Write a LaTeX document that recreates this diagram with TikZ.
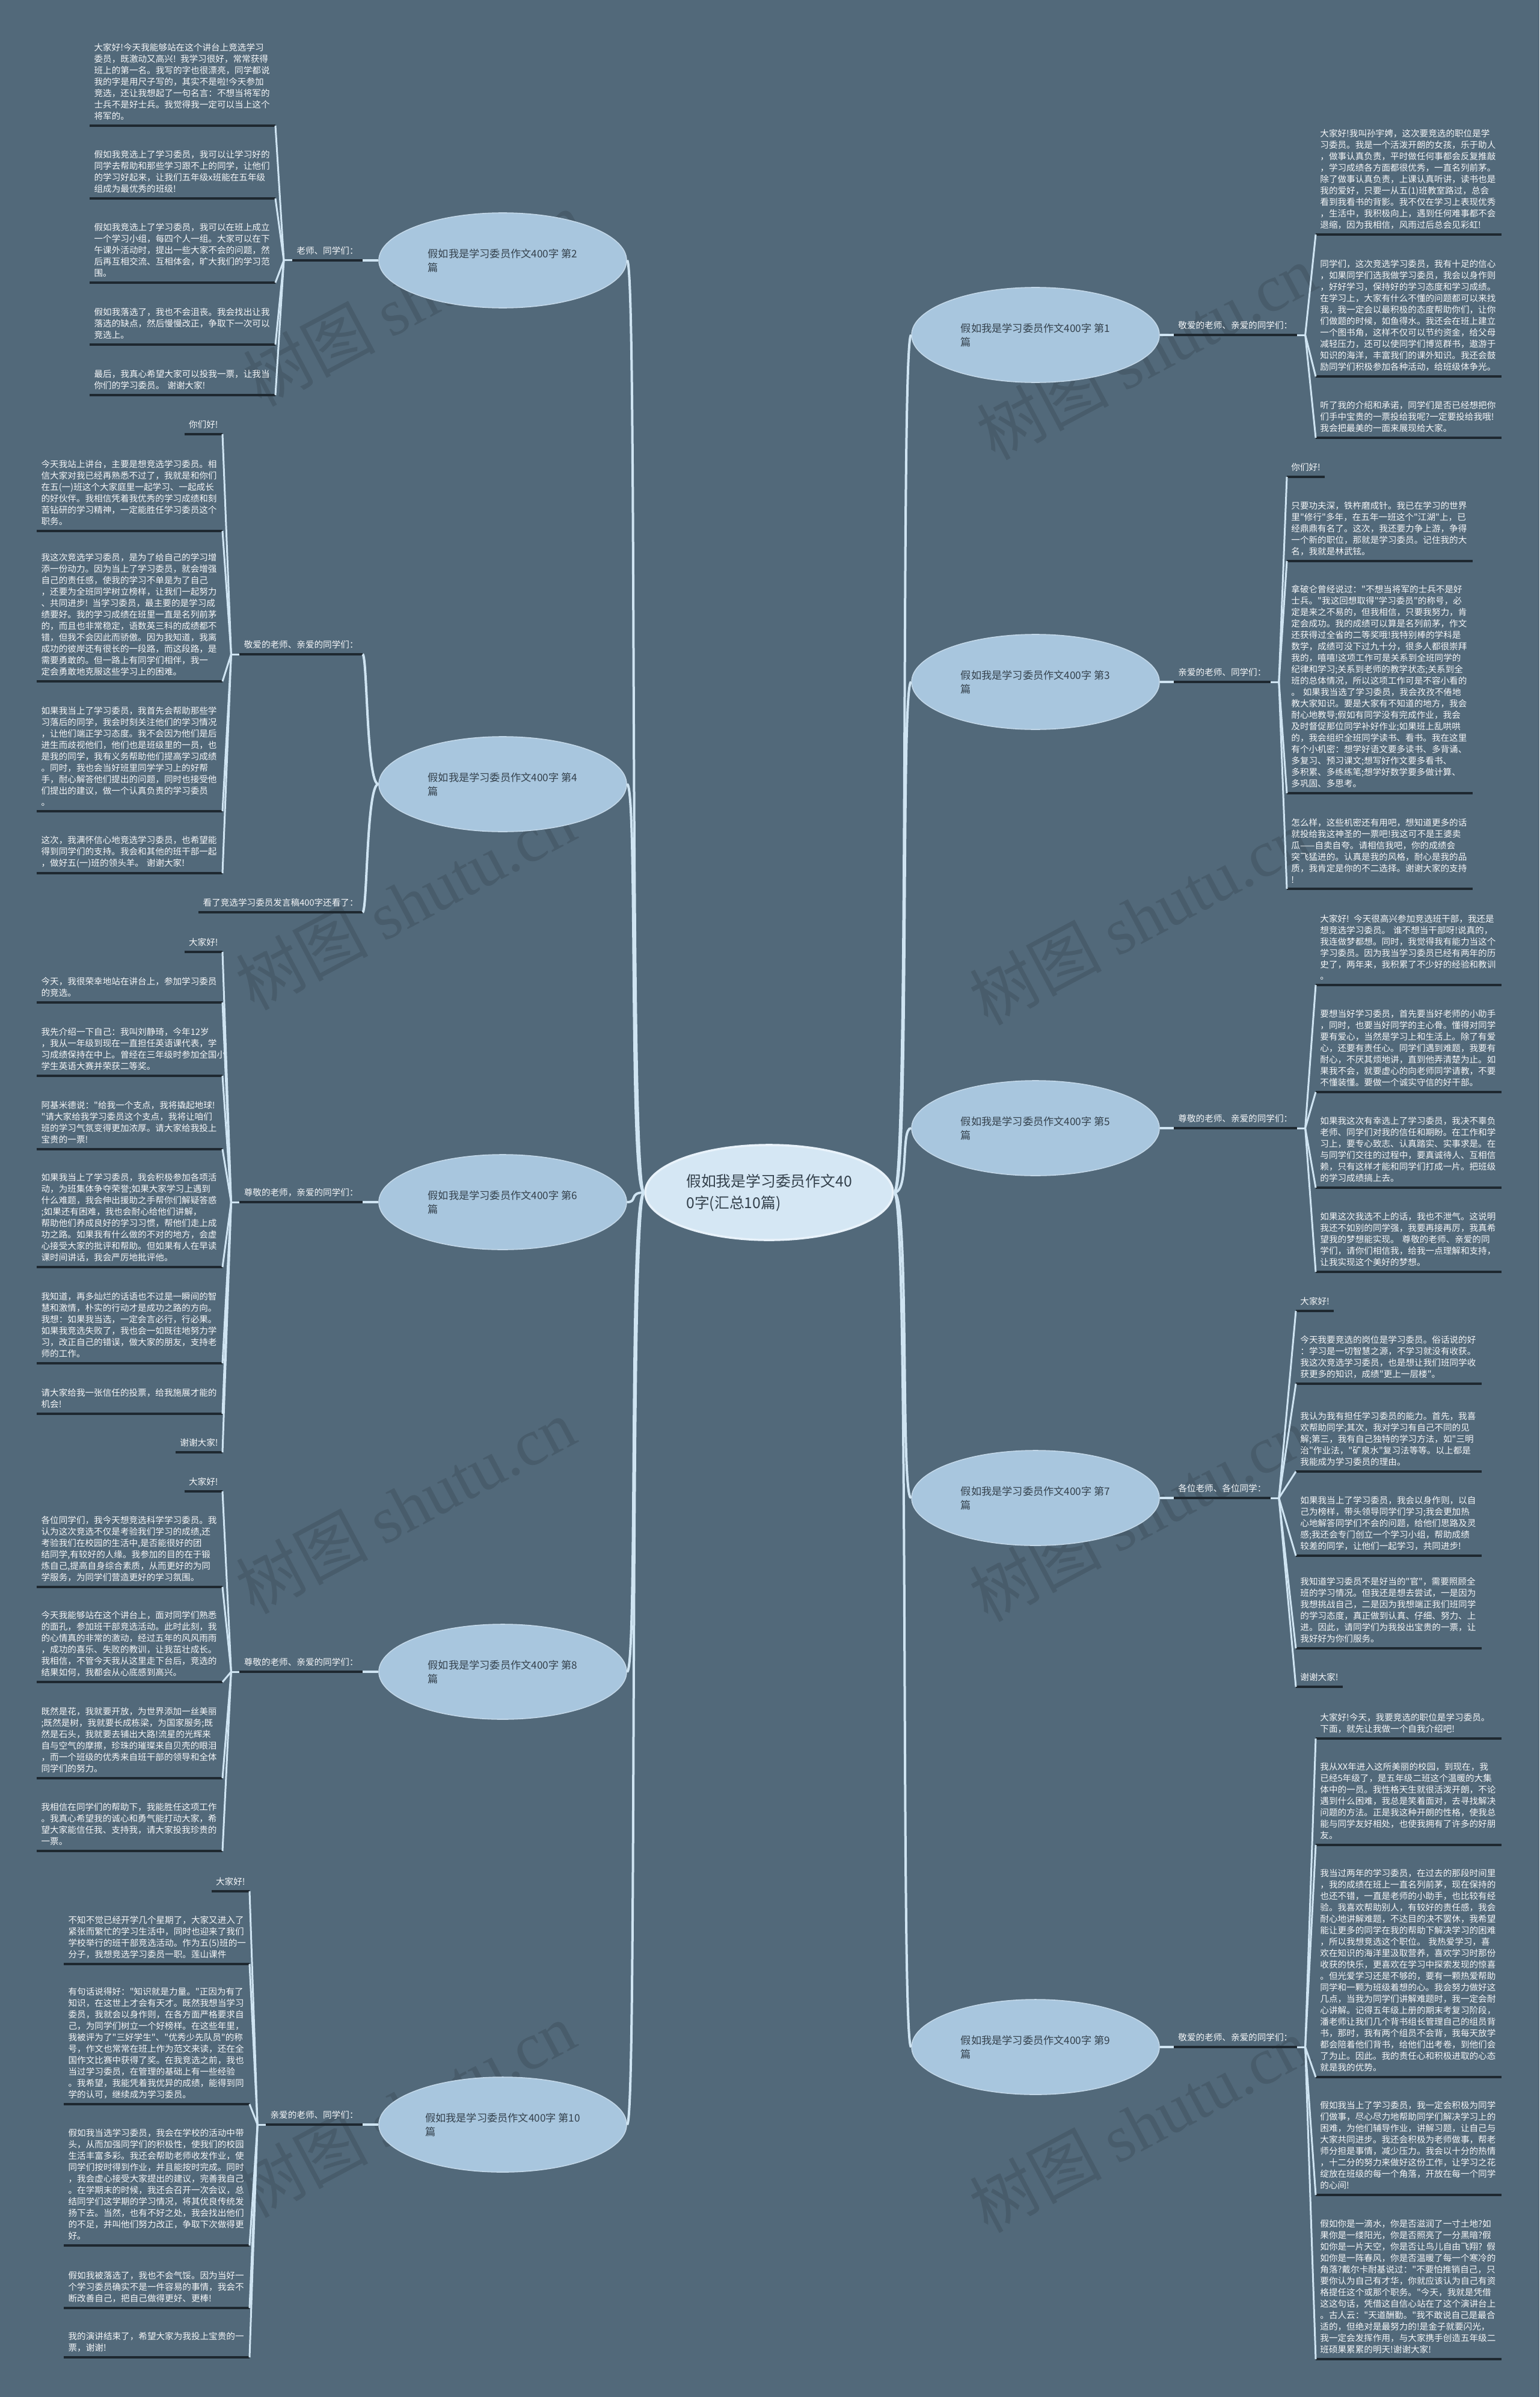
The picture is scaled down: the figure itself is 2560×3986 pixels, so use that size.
\documentclass[tikz,border=0pt]{standalone}
\usepackage{fontspec}
\usetikzlibrary{shapes.geometric}

\newfontfamily\cjk{Noto Sans CJK SC}
\newfontfamily\wmlatin{Liberation Serif}
\newcommand\paratext{\cjk\fontsize{7.3pt}{9.5pt}\selectfont}
\newcommand\topictext{\cjk\fontsize{8.6pt}{11.5pt}\selectfont}
\newcommand\roottext{\cjk\fontsize{12.4pt}{18pt}\selectfont}

\definecolor{bgc}{HTML}{52697A}
\definecolor{linkc}{HTML}{CFE4F2}
\definecolor{ulc}{HTML}{1E2830}
\definecolor{topicc}{HTML}{A8C6DE}
\definecolor{rootc}{HTML}{D5E7F4}
\definecolor{rootline}{HTML}{E8F2FA}
\definecolor{darkc}{HTML}{34414C}
\definecolor{textc}{HTML}{F4F6F8}

\tikzset{
  topic/.style={ellipse, draw=topicc!70!white, line width=0.8pt, fill=topicc,
    minimum width=206pt, minimum height=79pt, inner sep=0pt, align=left,
    text=darkc, font=\topictext},
  root/.style={topic, draw=rootline, line width=1.8pt, fill=rootc, font=\roottext},
  uline/.style={draw=ulc, line width=1.7pt},
  item/.style={font=\paratext, text=textc, align=left, inner xsep=3.5pt, inner ysep=4.3pt,
    append after command={(\tikzlastnode.south west) edge[uline] (\tikzlastnode.south east)}},
  para/.style={item, text width=147pt},
  link/.style={draw=linkc, line width=2pt},
  fan/.style={draw=linkc, line width=1.5pt},
  wm/.style={rotate=28, text=black, opacity=0.12, font=\cjk\fontsize{55pt}{55pt}\selectfont}
}

\begin{document}
\begin{tikzpicture}[x=0.5pt, y=-0.5pt]
  % Background
  \useasboundingbox (0,0) rectangle (2560,3986);
  \fill[bgc] (0,0) rectangle (2560,3986);

  % Watermarks
  \foreach \x/\y [count=\i] in {686/496, 1906/585, 674/1500, 1894/1525, 674/2504, 1894/2517, 674/3508, 1894/3533} {
    \node[wm] (wm\i) at (\x,\y) {树图 {\wmlatin shutu.cn}};
  }

  % Root and topics
  \node[root] (root) at (1279,1983) {假如我是学习委员作文40\\0字(汇总10篇)};
  \node[topic] (b1) at (1722,557) {假如我是学习委员作文400字 第1\\篇};
  \node[topic] (b3) at (1722,1134) {假如我是学习委员作文400字 第3\\篇};
  \node[topic] (b5) at (1722,1876) {假如我是学习委员作文400字 第5\\篇};
  \node[topic] (b7) at (1722,2491) {假如我是学习委员作文400字 第7\\篇};
  \node[topic] (b9) at (1722,3404) {假如我是学习委员作文400字 第9\\篇};
  \node[topic] (b2) at (836,433) {假如我是学习委员作文400字 第2\\篇};
  \node[topic] (b4) at (836,1304) {假如我是学习委员作文400字 第4\\篇};
  \node[topic] (b6) at (836,1999) {假如我是学习委员作文400字 第6\\篇};
  \node[topic] (b8) at (836,2780) {假如我是学习委员作文400字 第8\\篇};
  \node[topic] (b10) at (836,3533) {假如我是学习委员作文400字 第10\\篇};

  % Greetings
  \node[item, anchor=south west] (g1) at (1952,557) {敬爱的老师、亲爱的同学们：};
  \node[item, anchor=south west] (g3) at (1952,1134) {亲爱的老师、同学们：};
  \node[item, anchor=south west] (g5) at (1952,1876) {尊敬的老师、亲爱的同学们：};
  \node[item, anchor=south west] (g7) at (1952,2491) {各位老师、各位同学：};
  \node[item, anchor=south west] (g9) at (1952,3404) {敬爱的老师、亲爱的同学们：};
  \node[item, anchor=south east] (g2) at (603,433) {老师、同学们：};
  \node[item, anchor=south east] (g4) at (603,1088) {敬爱的老师、亲爱的同学们：};
  \node[item, anchor=south east] (p4f) at (603,1517) {看了竞选学习委员发言稿400字还看了：};
  \node[item, anchor=south east] (g6) at (603,1999) {尊敬的老师，亲爱的同学们：};
  \node[item, anchor=south east] (g8) at (603,2780) {尊敬的老师、亲爱的同学们：};
  \node[item, anchor=south east] (g10) at (603,3533) {亲爱的老师、同学们：};

  % Branch 1
  \node[para, anchor=south west] (p1a) at (2188,390) {大家好!我叫孙宇娉，这次要竞选的职位是学\\习委员。我是一个活泼开朗的女孩，乐于助人\\，做事认真负责，平时做任何事都会反复推敲\\，学习成绩各方面都很优秀，一直名列前茅。\\除了做事认真负责，上课认真听讲，读书也是\\我的爱好，只要一从五(1)班教室路过，总会\\看到我看书的背影。我不仅在学习上表现优秀\\，生活中，我积极向上，遇到任何难事都不会\\退缩，因为我相信，风雨过后总会见彩虹!};
  \node[para, anchor=south west] (p1b) at (2188,626) {同学们，这次竞选学习委员，我有十足的信心\\，如果同学们选我做学习委员，我会以身作则\\，好好学习，保持好的学习态度和学习成绩。\\在学习上，大家有什么不懂的问题都可以来找\\我，我一定会以最积极的态度帮助你们，让你\\们做题的时候，如鱼得水。我还会在班上建立\\一个图书角，这样不仅可以节约资金，给父母\\减轻压力，还可以使同学们博览群书，遨游于\\知识的海洋，丰富我们的课外知识。我还会鼓\\励同学们积极参加各种活动，给班级体争光。};
  \node[para, anchor=south west] (p1c) at (2188,728) {听了我的介绍和承诺，同学们是否已经想把你\\们手中宝贵的一票投给我呢?一定要投给我哦!\\我会把最美的一面来展现给大家。};

  % Branch 3
  \node[item, anchor=south west] (p3a) at (2140,793) {你们好!};
  \node[para, anchor=south west] (p3b) at (2140,933) {只要功夫深，铁杵磨成针。我已在学习的世界\\里"修行"多年，在五年一班这个"江湖"上，已\\经鼎鼎有名了。这次，我还要力争上游，争得\\一个新的职位，那就是学习委员。记住我的大\\名，我就是林武铉。};
  \node[para, anchor=south west] (p3c) at (2140,1319) {拿破仑曾经说过："不想当将军的士兵不是好\\士兵。"我这回想取得"学习委员"的称号，必\\定是来之不易的，但我相信，只要我努力，肯\\定会成功。我的成绩可以算是名列前茅，作文\\还获得过全省的二等奖哦!我特别棒的学科是\\数学，成绩可没下过九十分，很多人都很崇拜\\我的，嘻嘻!这项工作可是关系到全班同学的\\纪律和学习;关系到老师的教学状态;关系到全\\班的总体情况，所以这项工作可是不容小看的\\。 如果我当选了学习委员，我会孜孜不倦地\\教大家知识。要是大家有不知道的地方，我会\\耐心地教导;假如有同学没有完成作业，我会\\及时督促那位同学补好作业;如果班上乱哄哄\\的，我会组织全班同学读书、看书。我在这里\\有个小机密：想学好语文要多读书、多背诵、\\多复习、预习课文;想写好作文要多看书、\\多积累、多练练笔;想学好数学要多做计算、\\多巩固、多思考。};
  \node[para, anchor=south west] (p3d) at (2140,1478) {怎么样，这些机密还有用吧，想知道更多的话\\就投给我这神圣的一票吧!我这可不是王婆卖\\瓜——自卖自夸。请相信我吧，你的成绩会\\突飞猛进的。认真是我的风格，耐心是我的品\\质，我肯定是你的不二选择。谢谢大家的支持\\!};

  % Branch 5
  \node[para, anchor=south west] (p5a) at (2188,1638) {大家好! 今天很高兴参加竞选班干部，我还是\\想竞选学习委员。 谁不想当干部呀!说真的，\\我连做梦都想。同时，我觉得我有能力当这个\\学习委员。因为我当学习委员已经有两年的历\\史了，两年来，我积累了不少好的经验和教训\\。};
  \node[para, anchor=south west] (p5b) at (2188,1816) {要想当好学习委员，首先要当好老师的小助手\\，同时，也要当好同学的主心骨。懂得对同学\\要有爱心，当然是学习上和生活上。除了有爱\\心，还要有责任心。同学们遇到难题，我要有\\耐心，不厌其烦地讲，直到他弄清楚为止。如\\果我不会，就要虚心的向老师同学请教，不要\\不懂装懂。要做一个诚实守信的好干部。};
  \node[para, anchor=south west] (p5c) at (2188,1975) {如果我这次有幸选上了学习委员，我决不辜负\\老师、同学们对我的信任和期盼。在工作和学\\习上，要专心致志、认真踏实、实事求是。在\\与同学们交往的过程中，要真诚待人、互相信\\赖，只有这样才能和同学们打成一片。把班级\\的学习成绩搞上去。};
  \node[para, anchor=south west] (p5d) at (2188,2115) {如果这次我选不上的话，我也不泄气。这说明\\我还不如别的同学强，我要再接再厉，我真希\\望我的梦想能实现。 尊敬的老师、亲爱的同\\学们，请你们相信我，给我一点理解和支持，\\让我实现这个美好的梦想。};

  % Branch 7
  \node[item, anchor=south west] (p7a) at (2155,2180) {大家好!};
  \node[para, anchor=south west] (p7b) at (2155,2301) {今天我要竞选的岗位是学习委员。俗话说的好\\：学习是一切智慧之源，不学习就没有收获。\\我这次竞选学习委员，也是想让我们班同学收\\获更多的知识，成绩"更上一层楼"。};
  \node[para, anchor=south west] (p7c) at (2155,2447) {我认为我有担任学习委员的能力。首先，我喜\\欢帮助同学;其次，我对学习有自己不同的见\\解;第三，我有自己独特的学习方法，如"三明\\治"作业法，"矿泉水"复习法等等。以上都是\\我能成为学习委员的理由。};
  \node[para, anchor=south west] (p7d) at (2155,2587) {如果我当上了学习委员，我会以身作则，以自\\己为榜样，带头领导同学们学习;我会更加热\\心地解答同学们不会的问题，给他们思路及灵\\感;我还会专门创立一个学习小组，帮助成绩\\较差的同学，让他们一起学习，共同进步!};
  \node[para, anchor=south west] (p7e) at (2155,2741) {我知道学习委员不是好当的"官"，需要照顾全\\班的学习情况。但我还是想去尝试，一是因为\\我想挑战自己，二是因为我想端正我们班同学\\的学习态度，真正做到认真、仔细、努力、上\\进。因此，请同学们为我投出宝贵的一票，让\\我好好为你们服务。};
  \node[item, anchor=south west] (p7f) at (2155,2805) {谢谢大家!};

  % Branch 9
  \node[para, anchor=south west] (p9a) at (2188,2891) {大家好!今天，我要竞选的职位是学习委员。\\下面，就先让我做一个自我介绍吧!};
  \node[para, anchor=south west] (p9b) at (2188,3068) {我从XX年进入这所美丽的校园，到现在，我\\已经5年级了，是五年级二班这个温暖的大集\\体中的一员。我性格天生就很活泼开朗，不论\\遇到什么困难，我总是笑着面对，去寻找解决\\问题的方法。正是我这种开朗的性格，使我总\\能与同学友好相处，也使我拥有了许多的好朋\\友。};
  \node[para, anchor=south west] (p9c) at (2188,3454) {我当过两年的学习委员，在过去的那段时间里\\，我的成绩在班上一直名列前茅，现在保持的\\也还不错，一直是老师的小助手，也比较有经\\验。我喜欢帮助别人，有较好的责任感，我会\\耐心地讲解难题，不达目的决不罢休，我希望\\能让更多的同学在我的帮助下解决学习的困难\\，所以我想竞选这个职位。 我热爱学习，喜\\欢在知识的海洋里汲取营养，喜欢学习时那份\\收获的快乐，更喜欢在学习中探索发现的惊喜\\。但光爱学习还是不够的，要有一颗热爱帮助\\同学和一颗为班级着想的心。我会努力做好这\\几点，当我为同学们讲解难题时，我一定会耐\\心讲解。记得五年级上册的期末考复习阶段，\\潘老师让我们几个背书组长管理自己的组员背\\书，那时，我有两个组员不会背，我每天放学\\都会陪着他们背书，给他们出考卷，到他们会\\了为止。因此。我的责任心和积极进取的心态\\就是我的优势。};
  \node[para, anchor=south west] (p9d) at (2188,3650) {假如我当上了学习委员，我一定会积极为同学\\们做事，尽心尽力地帮助同学们解决学习上的\\困难，为他们辅导作业，讲解习题，让自己与\\大家共同进步。我还会积极为老师做事，帮老\\师分担是事情，减少压力。我会以十分的热情\\，十二分的努力来做好这份工作，让学习之花\\绽放在班级的每一个角落，开放在每一个同学\\的心间!};
  \node[para, anchor=south west] (p9e) at (2188,3923) {假如你是一滴水，你是否滋润了一寸土地?如\\果你是一缕阳光，你是否照亮了一分黑暗?假\\如你是一片天空，你是否让鸟儿自由飞翔? 假\\如你是一阵春风，你是否温暖了每一个寒冷的\\角落?戴尔卡耐基说过："不要怕推销自己，只\\要你认为自己有才华，你就应该认为自己有资\\格提任这个或那个职务。"今天，我就是凭借\\这这句话，凭借这自信心站在了这个演讲台上\\。古人云："天道酬勤。"我不敢说自己是最合\\适的，但绝对是最努力的!是金子就要闪光，\\我一定会发挥作用，与大家携手创造五年级二\\班硕果累累的明天!谢谢大家!};

  % Branch 2
  \node[para, anchor=south east] (p2a) at (458,209) {大家好!今天我能够站在这个讲台上竞选学习\\委员，既激动又高兴! 我学习很好，常常获得\\班上的第一名。我写的字也很漂亮，同学都说\\我的字是用尺子写的，其实不是啦!今天参加\\竞选，还让我想起了一句名言：不想当将军的\\士兵不是好士兵。我觉得我一定可以当上这个\\将军的。};
  \node[para, anchor=south east] (p2b) at (458,330) {假如我竞选上了学习委员，我可以让学习好的\\同学去帮助和那些学习跟不上的同学，让他们\\的学习好起来，让我们五年级x班能在五年级\\组成为最优秀的班级!};
  \node[para, anchor=south east] (p2c) at (458,470) {假如我竞选上了学习委员，我可以在班上成立\\一个学习小组，每四个人一组。大家可以在下\\午课外活动时，提出一些大家不会的问题，然\\后再互相交流、互相体会，旷大我们的学习范\\围。};
  \node[para, anchor=south east] (p2d) at (458,573) {假如我落选了，我也不会沮丧。我会找出让我\\落选的缺点，然后慢慢改正，争取下一次可以\\竞选上。};
  \node[para, anchor=south east] (p2e) at (458,657) {最后，我真心希望大家可以投我一票，让我当\\你们的学习委员。 谢谢大家!};

  % Branch 4
  \node[item, anchor=south east] (p4a) at (370,722) {你们好!};
  \node[para, anchor=south east] (p4b) at (370,883) {今天我站上讲台，主要是想竞选学习委员。相\\信大家对我已经再熟悉不过了，我就是和你们\\在五(一)班这个大家庭里一起学习、一起成长\\的好伙伴。我相信凭着我优秀的学习成绩和刻\\苦钻研的学习精神，一定能胜任学习委员这个\\职务。};
  \node[para, anchor=south east] (p4c) at (370,1133) {我这次竞选学习委员，是为了给自己的学习增\\添一份动力。因为当上了学习委员，就会增强\\自己的责任感，使我的学习不单是为了自己\\，还要为全班同学树立榜样，让我们一起努力\\、共同进步! 当学习委员，最主要的是学习成\\绩要好。我的学习成绩在班里一直是名列前茅\\的，而且也非常稳定，语数英三科的成绩都不\\错，但我不会因此而骄傲。因为我知道，我离\\成功的彼岸还有很长的一段路，而这段路，是\\需要勇敢的。但一路上有同学们相伴，我一\\定会勇敢地克服这些学习上的困难。};
  \node[para, anchor=south east] (p4d) at (370,1349) {如果我当上了学习委员，我首先会帮助那些学\\习落后的同学，我会时刻关注他们的学习情况\\，让他们端正学习态度。我不会因为他们是后\\进生而歧视他们，他们也是班级里的一员，也\\是我的同学，我有义务帮助他们提高学习成绩\\。同时，我也会当好班里同学学习上的好帮\\手，耐心解答他们提出的问题，同时也接受他\\们提出的建议，做一个认真负责的学习委员\\。};
  \node[para, anchor=south east] (p4e) at (370,1452) {这次，我满怀信心地竞选学习委员，也希望能\\得到同学们的支持。我会和其他的班干部一起\\，做好五(一)班的领头羊。 谢谢大家!};

  % Branch 6
  \node[item, anchor=south east] (p6a) at (370,1583) {大家好!};
  \node[para, anchor=south east] (p6b) at (370,1667) {今天，我很荣幸地站在讲台上，参加学习委员\\的竞选。};
  \node[para, anchor=south east] (p6c) at (370,1789) {我先介绍一下自己：我叫刘静琦，今年12岁\\，我从一年级到现在一直担任英语课代表，学\\习成绩保持在中上。曾经在三年级时参加全国小\\学生英语大赛并荣获二等奖。};
  \node[para, anchor=south east] (p6d) at (370,1911) {阿基米德说："给我一个支点，我将撬起地球!\\"请大家给我学习委员这个支点，我将让咱们\\班的学习气氛变得更加浓厚。请大家给我投上\\宝贵的一票!};
  \node[para, anchor=south east] (p6e) at (370,2107) {如果我当上了学习委员，我会积极参加各项活\\动，为班集体争夺荣誉;如果大家学习上遇到\\什么难题，我会伸出援助之手帮你们解疑答惑\\;如果还有困难，我也会耐心给他们讲解，\\帮助他们养成良好的学习习惯，帮他们走上成\\功之路。如果我有什么做的不对的地方，会虚\\心接受大家的批评和帮助。但如果有人在早读\\课时间讲话，我会严厉地批评他。};
  \node[para, anchor=south east] (p6f) at (370,2267) {我知道，再多灿烂的话语也不过是一瞬间的智\\慧和激情，朴实的行动才是成功之路的方向。\\我想：如果我当选，一定会言必行，行必果。\\如果我竞选失败了，我也会一如既往地努力学\\习，改正自己的错误，做大家的朋友，支持老\\师的工作。};
  \node[para, anchor=south east] (p6g) at (370,2351) {请大家给我一张信任的投票，给我施展才能的\\机会!};
  \node[item, anchor=south east] (p6h) at (370,2415) {谢谢大家!};

  % Branch 8
  \node[item, anchor=south east] (p8a) at (370,2480) {大家好!};
  \node[para, anchor=south east] (p8b) at (370,2639) {各位同学们，我今天想竞选科学学习委员。我\\认为这次竞选不仅是考验我们学习的成绩,还\\考验我们在校园的生活中,是否能很好的团\\结同学,有较好的人缘。我参加的目的在于锻\\炼自己,提高自身综合素质，从而更好的为同\\学服务，为同学们营造更好的学习氛围。};
  \node[para, anchor=south east] (p8c) at (370,2797) {今天我能够站在这个讲台上，面对同学们熟悉\\的面孔，参加班干部竞选活动。此时此刻，我\\的心情真的非常的激动，经过五年的风风雨雨\\，成功的喜乐、失败的教训，让我茁壮成长。\\我相信，不管今天我从这里走下台后，竞选的\\结果如何，我都会从心底感到高兴。};
  \node[para, anchor=south east] (p8d) at (370,2957) {既然是花，我就要开放，为世界添加一丝美丽\\;既然是树，我就要长成栋梁，为国家服务;既\\然是石头，我就要去铺出大路!流星的光辉来\\自与空气的摩擦，珍珠的璀璨来自贝壳的眼泪\\，而一个班级的优秀来自班干部的领导和全体\\同学们的努力。};
  \node[para, anchor=south east] (p8e) at (370,3078) {我相信在同学们的帮助下，我能胜任这项工作\\。我真心希望我的诚心和勇气能打动大家，希\\望大家能信任我、支持我，请大家投我珍贵的\\一票。};

  % Branch 10
  \node[item, anchor=south east] (p10a) at (415,3145) {大家好!};
  \node[para, anchor=south east] (p10b) at (415,3266) {不知不觉已经开学几个星期了，大家又进入了\\紧张而繁忙的学习生活中，同时也迎来了我们\\学校举行的班干部竞选活动。作为五(5)班的一\\分子，我想竞选学习委员一职。莲山课件};
  \node[para, anchor=south east] (p10c) at (415,3499) {有句话说得好："知识就是力量。"正因为有了\\知识，在这世上才会有天才。既然我想当学习\\委员，我就会以身作则，在各方面严格要求自\\己，为同学们树立一个好榜样。在这些年里，\\我被评为了"三好学生"、"优秀少先队员"的称\\号，作文也常常在班上作为范文来读，还在全\\国作文比赛中获得了奖。在我竞选之前，我也\\当过学习委员，在管理的基础上有一些经验\\。我希望，我能凭着我优异的成绩，能得到同\\学的认可，继续成为学习委员。};
  \node[para, anchor=south east] (p10d) at (415,3734) {假如我当选学习委员，我会在学校的活动中带\\头，从而加强同学们的积极性，使我们的校园\\生活丰富多彩。我还会帮助老师收发作业，使\\同学们按时得到作业，并且能按时完成。同时\\，我会虚心接受大家提出的建议，完善我自己\\。在学期末的时候，我还会召开一次会议，总\\结同学们这学期的学习情况，将其优良传统发\\扬下去。当然，也有不好之处，我会找出他们\\的不足，并叫他们努力改正，争取下次做得更\\好。};
  \node[para, anchor=south east] (p10e) at (415,3838) {假如我被落选了，我也不会气馁。因为当好一\\个学习委员确实不是一件容易的事情，我会不\\断改善自己，把自己做得更好、更棒!};
  \node[para, anchor=south east] (p10f) at (415,3920) {我的演讲结束了，希望大家为我投上宝贵的一\\票，谢谢!};

  % Root to topics
  \foreach \b in {b2,b4,b6,b8,b10}
    \draw[link] (root.west) .. controls +(-26,0) and +(18,0) .. (\b.east);
  \foreach \b in {b1,b3,b5,b7,b9}
    \draw[link] (root.east) .. controls +(26,0) and +(-18,0) .. (\b.west);

  % Topics to greetings
  \foreach \b/\g in {b2/g2, b4/g4, b4/p4f, b6/g6, b8/g8, b10/g10}
    \draw[link] (\b.west) .. controls +(-20,0) and +(8,0) .. (\g.south east);
  \foreach \b/\g in {b1/g1, b3/g3, b5/g5, b7/g7, b9/g9}
    \draw[link] (\b.east) .. controls +(20,0) and +(-8,0) .. (\g.south west);

  % Fans from greetings to paragraphs
  \foreach \g/\list in {g2/{p2a,p2b,p2c,p2d,p2e}, g4/{p4a,p4b,p4c,p4d,p4e},
      g6/{p6a,p6b,p6c,p6d,p6e,p6f,p6g,p6h}, g8/{p8a,p8b,p8c,p8d,p8e},
      g10/{p10a,p10b,p10c,p10d,p10e,p10f}} {
    \coordinate (o\g) at ([xshift=-7pt]\g.south west);
    \draw[fan] (\g.south west) -- (o\g);
    \foreach \p in \list
      \draw[fan] (o\g) -- (\p.south east);
  }
  \foreach \g/\list in {g1/{p1a,p1b,p1c}, g3/{p3a,p3b,p3c,p3d}, g5/{p5a,p5b,p5c,p5d},
      g7/{p7a,p7b,p7c,p7d,p7e,p7f}, g9/{p9a,p9b,p9c,p9d,p9e}} {
    \coordinate (o\g) at ([xshift=7pt]\g.south east);
    \draw[fan] (\g.south east) -- (o\g);
    \foreach \p in \list
      \draw[fan] (o\g) -- (\p.south west);
  }
\end{tikzpicture}
\end{document}
